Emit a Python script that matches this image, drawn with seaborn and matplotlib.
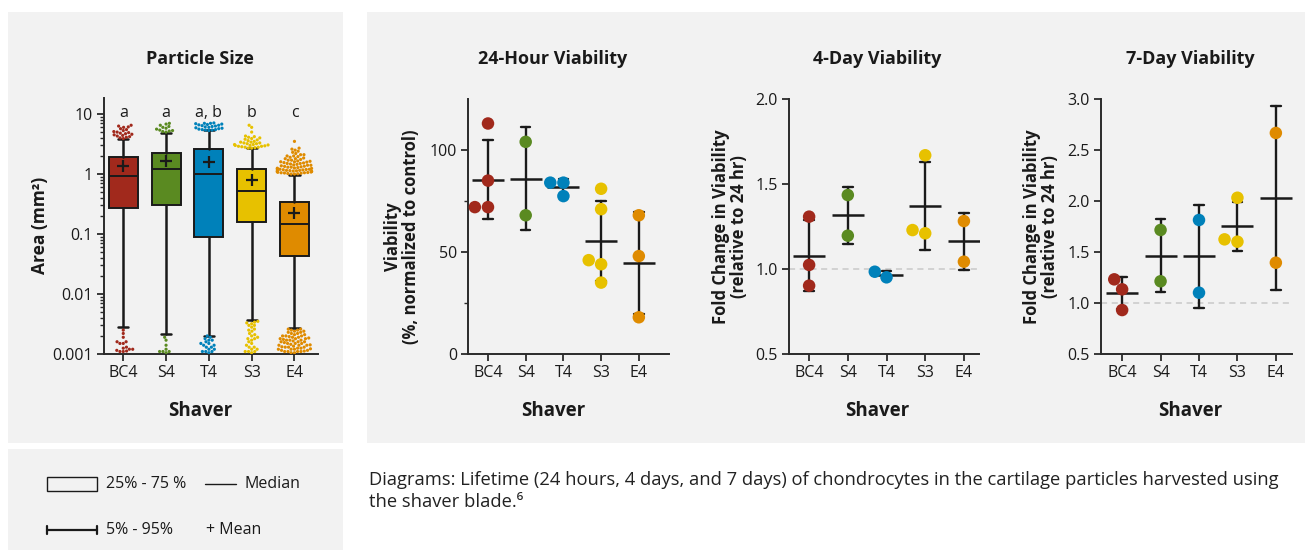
import numpy as np
import pandas as pd
import matplotlib
matplotlib.use("Agg")
import matplotlib.pyplot as plt
import seaborn as sns
from matplotlib.patches import Rectangle
from matplotlib.lines import Line2D

sns.set_style("ticks")
plt.rcParams["font.family"] = ["Open Sans", "DejaVu Sans"]

shavers = ["BC4", "S4", "T4", "S3", "E4"]
colors = ["#a1291c", "#5a8a21", "#0081ba", "#e7c100", "#df8b00"]

# particle size box stats (mm^2)
q1 = [0.271, 0.308, 0.089, 0.158, 0.043]
med = [0.94, 1.21, 1.0, 0.52, 0.145]
q3 = [1.94, 2.2, 2.64, 1.21, 0.336]
mean = [1.37, 1.65, 1.6, 0.80, 0.224]
p5 = [0.0028, 0.00218, 0.00202, 0.00363, 0.00274]
p95 = [3.83, 4.82, 5.33, 2.67, 0.96]
letters = ["a", "a", "a, b", "b", "c"]

# points outside the 5-95% whiskers
out_bc4 = [3.9, 4.0, 4.1, 4.2, 4.3, 4.4, 4.5, 4.6, 4.7, 4.8, 4.9, 5.0, 5.1, 5.3, 5.5, 5.7, 6.0, 6.1, 6.3, 6.5,
           0.0011, 0.0011, 0.00112, 0.00115, 0.0012, 0.0012, 0.00125, 0.0013, 0.0015, 0.0015, 0.0016, 0.0016,
           0.0019, 0.0022, 0.0025]
out_s4 = [5.0, 5.1, 5.2, 5.3, 5.4, 5.6, 5.8, 6.0, 6.2, 6.5, 6.8, 7.0,
          0.00105, 0.0011, 0.0011, 0.0011, 0.0012, 0.0014, 0.0017, 0.0019]
out_t4 = [5.3, 5.4, 5.4, 5.5, 5.5, 5.6, 5.7, 5.8, 5.9, 6.0, 6.1, 6.2, 6.3, 6.4, 6.5, 6.6, 6.7, 6.8, 6.9, 7.0,
          7.0, 7.1,
          0.00105, 0.0011, 0.0011, 0.0011, 0.0012, 0.0012, 0.0013, 0.0013, 0.0014, 0.0014, 0.0015, 0.0015,
          0.0016, 0.0017, 0.0017, 0.0018, 0.0019, 0.002]
out_s3 = [2.7, 2.7, 2.75, 2.8, 2.8, 2.85, 2.9, 2.9, 2.95, 3.0, 3.0, 3.05, 3.1, 3.1, 3.2, 3.2, 3.3, 3.3, 3.4,
          3.4, 3.5, 3.6, 3.7, 3.8, 3.9, 4.0, 4.1, 4.2, 4.3, 5.0, 6.0, 6.5,
          0.00105, 0.0011, 0.0011, 0.0011, 0.0012, 0.0012, 0.0013, 0.0013, 0.0014, 0.0015, 0.0016, 0.0017,
          0.0018, 0.0018, 0.0019, 0.002, 0.0021, 0.0022, 0.0024, 0.0025, 0.0026, 0.0028, 0.003, 0.003,
          0.0032, 0.0033, 0.0034, 0.0035]
out_e4 = [1.0, 1.0, 1.01, 1.02, 1.03, 1.04, 1.05, 1.05, 1.06, 1.07, 1.08, 1.09, 1.1, 1.1, 1.11, 1.12, 1.13,
          1.14, 1.15, 1.15, 1.16, 1.17, 1.18, 1.19, 1.2, 1.2, 1.22, 1.24, 1.25, 1.26, 1.28, 1.3, 1.3, 1.32,
          1.34, 1.35, 1.37, 1.4, 1.4, 1.42, 1.45, 1.47, 1.5, 1.5, 1.53, 1.55, 1.58, 1.6, 1.6, 1.63, 1.65,
          1.7, 1.7, 1.75, 1.8, 1.8, 1.85, 1.9, 1.95, 2.0, 2.0, 2.1, 2.1, 2.2, 2.3, 2.4, 2.5, 2.6, 2.7, 3.5,
          0.00105, 0.00105, 0.0011, 0.0011, 0.0011, 0.0011, 0.00112, 0.00115, 0.00115, 0.0012, 0.0012,
          0.0012, 0.00122, 0.00125, 0.00125, 0.0013, 0.0013, 0.0013, 0.00132, 0.00135, 0.0014, 0.0014,
          0.0014, 0.00142, 0.00145, 0.0015, 0.0015, 0.0015, 0.00155, 0.0016, 0.0016, 0.0016, 0.00165,
          0.0017, 0.0017, 0.0017, 0.00175, 0.0018, 0.0018, 0.0018, 0.00185, 0.0019, 0.0019, 0.00195,
          0.002, 0.002, 0.002, 0.0021, 0.0021, 0.0022, 0.0022, 0.0023, 0.0023, 0.0024, 0.0024, 0.0025,
          0.0025, 0.0026, 0.0026]

# viability points
v24 = {"BC4": [113, 85, 72, 72], "S4": [104, 68], "T4": [84, 84, 77.4], "S3": [81, 71, 46, 44, 35],
       "E4": [68, 48, 18]}
v4d = {"BC4": [1.308, 1.024, 0.902], "S4": [1.435, 1.196], "T4": [0.951, 0.984],
       "S3": [1.669, 1.21, 1.229], "E4": [1.282, 1.043]}
v7d = {"BC4": [1.232, 1.134, 0.931], "S4": [1.716, 1.213], "T4": [1.814, 1.101],
       "S3": [2.032, 1.601, 1.624], "E4": [2.667, 1.395]}

W, H = 1312, 550
fig = plt.figure(figsize=(W / 100, H / 100), dpi=100)
fig.patch.set_facecolor("white")

bg = "#f2f2f2"
for (x0, y0, x1, y1) in [(8, 12, 343, 443), (367, 12, 1305, 443), (8, 449, 343, 550)]:
    fig.patches.append(Rectangle((x0 / W, 1 - y1 / H), (x1 - x0) / W, (y1 - y0) / H,
                                 transform=fig.transFigure, facecolor=bg, edgecolor="none", zorder=-10))


def make_ax(l, r, t, b):
    ax = fig.add_axes([l / W, 1 - b / H, (r - l) / W, (b - t) / H])
    ax.set_facecolor("none")
    for s in ["top", "right"]:
        ax.spines[s].set_visible(False)
    for s in ["left", "bottom"]:
        ax.spines[s].set_linewidth(1.4)
        ax.spines[s].set_color("#2a2a2a")
    ax.tick_params(axis="both", which="major", length=5, width=1.3, color="#2a2a2a",
                   labelsize=11.5, labelcolor="#1a1a1a", pad=3)
    ax.tick_params(axis="both", which="minor", length=3, width=1.0, color="#2a2a2a")
    return ax


ink = "#1a1a1a"

# ---------- Particle size ----------
ax1 = make_ax(104, 318, 98, 354)
ax1.set_yscale("log")
rows = []
for name, vals in zip(shavers, [out_bc4, out_s4, out_t4, out_s3, out_e4]):
    rows += [(name, v) for v in vals]
outs = pd.DataFrame(rows, columns=["shaver", "area"])
sns.swarmplot(data=outs, x="shaver", y="area", hue="shaver", order=shavers, hue_order=shavers,
              palette=colors, size=2.3, linewidth=0, legend=False, ax=ax1, zorder=3, warn_thresh=1.0)

stats = []
for i in range(5):
    stats.append(dict(med=med[i], q1=q1[i], q3=q3[i], whislo=p5[i], whishi=p95[i], mean=mean[i],
                      fliers=[]))
bp = ax1.bxp(stats, positions=range(5), widths=0.68, capwidths=0.24, showmeans=True, patch_artist=True,
             boxprops=dict(edgecolor=ink, linewidth=1.4),
             medianprops=dict(color=ink, linewidth=1.4),
             whiskerprops=dict(color=ink, linewidth=1.8),
             capprops=dict(color=ink, linewidth=1.8),
             meanprops=dict(marker="+", markersize=8, markeredgecolor=ink, markeredgewidth=1.6))
for patch, c in zip(bp["boxes"], colors):
    patch.set_facecolor(c)
    patch.set_zorder(2)
for ln in bp["medians"] + bp["means"]:
    ln.set_zorder(2.5)

ax1.set_ylim(0.001, 18.5)
ax1.set_xlim(-0.45, 4.55)
ax1.set_yticks([0.001, 0.01, 0.1, 1, 10])
ax1.set_yticklabels(["0.001", "0.01", "0.1", "1", "10"])
ax1.set_xticks(range(5))
ax1.set_xticklabels(shavers)
ax1.set_xlabel("")
ax1.set_ylabel("")
for i, t in enumerate(letters):
    ax1.text(i, 10.3, t, ha="center", va="center", fontsize=11.5, color=ink)


# ---------- viability panels ----------
def dot_panel(ax, data, ylim, yticks, minor=None, ref=None):
    rows = []
    for name in shavers:
        rows += [(name, v) for v in data[name]]
    df = pd.DataFrame(rows, columns=["shaver", "val"])
    if ref is not None:
        ax.axhline(ref, color="#c9c9c9", lw=1.1, ls=(0, (4, 3)), zorder=0)
    sns.pointplot(data=df, x="shaver", y="val", order=shavers, errorbar="sd", capsize=0.25,
                  color=ink, markers="_", linestyles="none", markersize=23, markeredgewidth=1.8,
                  err_kws={"linewidth": 1.7}, ax=ax)
    sns.swarmplot(data=df, x="shaver", y="val", hue="shaver", order=shavers, hue_order=shavers,
                  palette=colors, size=9, linewidth=0, legend=False, ax=ax, zorder=4, warn_thresh=1.0)
    ax.set_ylim(*ylim)
    ax.set_yticks(yticks)
    if minor is not None:
        ax.set_yticks(minor, minor=True)
    ax.set_xlabel("")
    ax.set_ylabel("")


ax2 = make_ax(468, 669, 99, 354)
dot_panel(ax2, v24, (0, 125), [0, 50, 100], minor=[25, 75])
ax2.set_xlim(-0.53, 4.8)

ax3 = make_ax(789, 979, 99, 354)
dot_panel(ax3, v4d, (0.5, 2.0), [0.5, 1.0, 1.5, 2.0], ref=1.0)
ax3.set_yticklabels(["0.5", "1.0", "1.5", "2.0"])
ax3.set_xlim(-0.52, 4.39)

ax4 = make_ax(1101, 1292, 99, 354)
dot_panel(ax4, v7d, (0.5, 3.0), [0.5, 1.0, 1.5, 2.0, 2.5, 3.0], ref=1.0)
ax4.set_yticklabels(["0.5", "1.0", "1.5", "2.0", "2.5", "3.0"])
ax4.set_xlim(-0.55, 4.42)

# ---------- titles and labels ----------
def ftext(x, y, s, **kw):
    fig.text(x / W, 1 - y / H, s, **kw)


for cx, title in [(200, "Particle Size"), (553, "24-Hour Viability"), (877, "4-Day Viability"),
                  (1190, "7-Day Viability")]:
    ftext(cx, 59, title, ha="center", va="center", fontsize=13, fontweight="bold", color=ink)
    ftext(cx, 411, "Shaver", ha="center", va="center", fontsize=13.5, fontweight="bold", color=ink)

ftext(40, 225, "Area (mm\u00b2)", rotation=90, ha="center", va="center", fontsize=12.5,
      fontweight="bold", color=ink)
ftext(402, 237, "Viability\n(%, normalized to control)", rotation=90, ha="center", va="center",
      fontsize=12, fontweight="bold", color=ink, linespacing=0.95)
ftext(730, 227, "Fold Change in Viability\n(relative to 24 hr)", rotation=90, ha="center",
      va="center", fontsize=12, fontweight="bold", color=ink, linespacing=0.95)
ftext(1041, 227, "Fold Change in Viability\n(relative to 24 hr)", rotation=90, ha="center",
      va="center", fontsize=12, fontweight="bold", color=ink, linespacing=0.95)

# ---------- legend key ----------
fig.patches.append(Rectangle((47 / W, 1 - 491 / H), 50 / W, 14 / H, transform=fig.transFigure,
                             facecolor="none", edgecolor=ink, linewidth=1.0))
ftext(106, 484, "25% - 75 %", ha="left", va="center", fontsize=11.5, color=ink)
fig.lines.append(Line2D([205 / W, 236 / W], [1 - 484 / H] * 2, transform=fig.transFigure,
                        color=ink, linewidth=1.0))
ftext(245, 484, "Median", ha="left", va="center", fontsize=11.5, color=ink)
fig.lines.append(Line2D([47 / W, 97 / W], [1 - 530 / H] * 2, transform=fig.transFigure,
                        color=ink, linewidth=1.6))
for xc in (47, 97):
    fig.lines.append(Line2D([xc / W] * 2, [1 - 526 / H, 1 - 534 / H], transform=fig.transFigure,
                            color=ink, linewidth=1.6))
ftext(106, 530, "5% - 95%", ha="left", va="center", fontsize=11.5, color=ink)
ftext(206, 530, "+ Mean", ha="left", va="center", fontsize=11.5, color=ink)

# ---------- caption ----------
cap = ("Diagrams: Lifetime (24 hours, 4 days, and 7 days) of chondrocytes in the cartilage particles "
       "harvested using\nthe shaver blade.\u2076")
ftext(369, 491, cap, ha="left", va="center", fontsize=13.2, color="#222222", linespacing=1.25,
      family=["Open Sans", "DejaVu Sans"])

fig.savefig("out.png", dpi=100, facecolor="white")
